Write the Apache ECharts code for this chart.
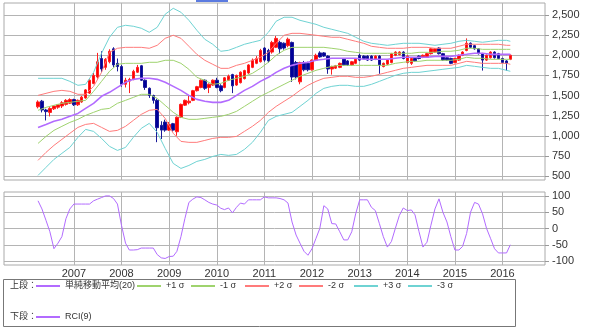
<!DOCTYPE html>
<html><head><meta charset="utf-8">
<script src="https://cdn.jsdelivr.net/npm/echarts@6/dist/echarts.min.js"></script>
<style>html,body{margin:0;padding:0;background:#fff}#c{width:600px;height:332px}</style>
</head><body><div id="c"></div>
<script>
// ---- monthly candles (Apr 2006 - Mar 2016) ----
const months = [
'2006-04','2006-05','2006-06','2006-07','2006-08','2006-09','2006-10','2006-11','2006-12',
'2007-01','2007-02','2007-03','2007-04','2007-05','2007-06','2007-07','2007-08','2007-09','2007-10','2007-11','2007-12',
'2008-01','2008-02','2008-03','2008-04','2008-05','2008-06','2008-07','2008-08','2008-09','2008-10','2008-11','2008-12',
'2009-01','2009-02','2009-03','2009-04','2009-05','2009-06','2009-07','2009-08','2009-09','2009-10','2009-11','2009-12',
'2010-01','2010-02','2010-03','2010-04','2010-05','2010-06','2010-07','2010-08','2010-09','2010-10','2010-11','2010-12',
'2011-01','2011-02','2011-03','2011-04','2011-05','2011-06','2011-07','2011-08','2011-09','2011-10','2011-11','2011-12',
'2012-01','2012-02','2012-03','2012-04','2012-05','2012-06','2012-07','2012-08','2012-09','2012-10','2012-11','2012-12',
'2013-01','2013-02','2013-03','2013-04','2013-05','2013-06','2013-07','2013-08','2013-09','2013-10','2013-11','2013-12',
'2014-01','2014-02','2014-03','2014-04','2014-05','2014-06','2014-07','2014-08','2014-09','2014-10','2014-11','2014-12',
'2015-01','2015-02','2015-03','2015-04','2015-05','2015-06','2015-07','2015-08','2015-09','2015-10','2015-11','2015-12',
'2016-01','2016-02','2016-03'];
const openP = [
1360,1430,1320,1290,1335,1355,1370,1390,1405,
1450,1385,1420,1470,1530,1650,1730,1960,1850,1920,2080,1900,
1860,1640,1680,1700,1790,1870,1690,1590,1500,1440,1130,1170,
1070,1150,1050,1230,1380,1410,1440,1560,1600,1690,1600,1630,
1690,1620,1600,1690,1760,1630,1660,1710,1780,1850,1900,1920,
2090,2060,2040,2100,2160,2150,2120,2160,1910,1670,1910,1900,
1820,1940,2030,2030,1990,1830,1840,1850,1950,1930,1880,1900,
2000,1990,1990,1990,1950,1990,1860,1890,1910,2000,2010,2040,
1910,1900,1960,1990,1975,1975,2020,2040,2090,2020,1970,1960,
1910,1940,2000,2060,2150,2120,2080,2020,1940,1970,2040,2020,
1960,1930,1950];
const closeP = [
1420,1320,1300,1340,1370,1385,1410,1440,1450,
1385,1440,1480,1570,1690,1750,1920,1830,1950,2050,1880,1860,
1640,1690,1700,1800,1850,1690,1600,1500,1440,1100,1070,1070,
1140,1070,1230,1390,1440,1430,1560,1610,1690,1590,1640,1690,
1600,1560,1720,1740,1620,1750,1790,1810,1880,1940,1960,2060,
1940,1930,2160,2210,2080,2090,2200,1730,1730,1910,1820,1820,
1940,2000,1980,1990,1830,1860,1870,1900,1880,1880,1920,1950,
1940,1960,1940,1940,1990,1880,1900,1940,2020,2040,2040,1960,
1990,1960,1930,1960,2000,2020,2080,2080,2020,1940,1940,1900,
1960,2000,2040,2150,2100,2080,2020,1940,2000,2040,1970,1960,
1910,1900,2000];
const lowP = [
1340,1290,1190,1240,1320,1335,1345,1375,1395,
1370,1370,1410,1460,1520,1640,1710,1790,1820,1900,1850,1800,
1610,1600,1530,1690,1780,1680,1570,1470,1400,920,960,1050,
1060,1050,1000,1220,1370,1390,1430,1550,1590,1570,1530,1620,
1590,1540,1590,1680,1530,1620,1650,1700,1770,1840,1890,1910,
1920,1910,2020,2090,2020,2070,2100,1670,1700,1640,1800,1800,
1810,1930,1970,1980,1770,1760,1830,1840,1870,1870,1870,1890,
1930,1950,1930,1930,1940,1770,1850,1880,1900,1990,2000,1950,
1900,1880,1920,1950,1965,1970,2010,2030,2010,1930,1930,1890,
1900,1930,1990,2050,2090,2070,2010,1810,1930,1960,1960,1950,
1900,1810,1940];
const highP = [
1440,1445,1335,1355,1380,1395,1430,1455,1465,
1460,1450,1495,1580,1700,1780,2030,2050,1965,2075,2100,1960,
1880,1720,1720,1820,1880,1880,1700,1600,1510,1460,1180,1200,
1170,1160,1240,1400,1450,1500,1570,1620,1700,1700,1650,1700,
1720,1640,1730,1760,1770,1760,1800,1820,1890,1960,1990,2080,
2100,2080,2180,2240,2180,2160,2220,2170,1930,1920,1930,1920,
1950,2020,2050,2040,2000,1870,1880,1910,1960,1940,1930,1960,
2020,2000,2000,2000,2000,2000,1910,1950,2030,2050,2050,2050,
2000,1970,1970,2000,2010,2030,2090,2090,2100,2030,1980,1970,
1970,2010,2050,2210,2160,2130,2090,2030,2010,2050,2050,2030,
1970,1940,2010];
// ---- RCI(9), monthly ----
const rci9 = [
85,60,25,-10,-62,-45,-25,30,60,
75,75,75,75,75,85,90,95,100,100,92,75,
10,-45,-66,-66,-65,-60,-60,-60,-60,-80,-90,-92,
-86,-85,-70,-25,30,80,90,97,95,88,80,75,
72,62,58,63,48,65,78,75,88,88,88,88,
97,94,94,94,92,88,78,20,-20,-45,-70,-82,
-62,-30,0,70,60,15,14,-10,-35,-35,-10,45,
88,88,88,65,55,15,-25,-57,-40,0,40,63,
55,57,42,-10,-57,-42,10,60,91,50,20,-25,
-66,-66,-55,-15,50,80,75,45,0,-30,-62,-75,
-75,-75,-50];
// ---- Bollinger band lines, read every two months ----
const bandMonths = [
'2006-04','2006-06','2006-08','2006-10','2006-12','2007-02','2007-04','2007-06','2007-08','2007-10',
'2007-12','2008-02','2008-04','2008-06','2008-08','2008-10','2008-12','2009-02','2009-04','2009-06',
'2009-08','2009-10','2009-12','2010-02','2010-04','2010-06','2010-08','2010-10','2010-12','2011-02',
'2011-04','2011-06','2011-08','2011-10','2011-12','2012-02','2012-04','2012-06','2012-08','2012-10',
'2012-12','2013-02','2013-04','2013-06','2013-08','2013-10','2013-12','2014-02','2014-04','2014-06',
'2014-08','2014-10','2014-12','2015-02','2015-04','2015-06','2015-08','2015-10','2015-12','2016-02','2016-03'];
const plus3 = [1714,1714,1714,1714,1676,1627,1639,1788,2025,2224,2348,2373,2361,2336,2286,2348,2510,2584,2535,2435,2311,2199,2137,2050,2062,2099,2137,2162,2186,2286,2423,2473,2473,2435,2410,2385,2348,2323,2298,2273,2224,2174,2149,2137,2124,2137,2149,2149,2149,2137,2124,2137,2149,2174,2186,2174,2162,2174,2186,2186,2174];
const plus2 = [1502,1527,1552,1564,1552,1515,1515,1614,1788,2037,2087,2099,2099,2099,2087,2124,2211,2249,2211,2112,2012,1938,1888,1838,1838,1875,1900,1938,1975,2037,2149,2249,2273,2273,2261,2249,2236,2224,2224,2199,2174,2149,2112,2099,2087,2087,2087,2099,2099,2099,2087,2087,2087,2112,2137,2137,2137,2137,2137,2124,2124];
const plus1 = [1316,1353,1378,1403,1415,1428,1440,1552,1676,1801,1888,1900,1900,1900,1913,1913,1938,1938,1900,1826,1726,1689,1639,1651,1689,1714,1739,1776,1838,1913,2000,2062,2099,2099,2099,2099,2099,2087,2074,2050,2037,2025,2025,2025,2025,2025,2025,2025,2037,2037,2037,2050,2050,2062,2087,2087,2074,2074,2074,2074,2074];
const sma20 = [1104,1141,1179,1204,1241,1278,1340,1403,1490,1540,1602,1664,1701,1714,1714,1701,1664,1614,1564,1502,1452,1428,1415,1415,1440,1502,1564,1614,1676,1726,1788,1838,1875,1900,1913,1938,1950,1963,1963,1963,1963,1950,1950,1950,1950,1963,1975,1975,1975,1975,1987,1987,1987,2000,2012,2025,2025,2012,2012,2012,2012];
const minus1 = [905,992,1067,1117,1166,1204,1253,1291,1328,1340,1403,1440,1477,1515,1515,1465,1378,1291,1229,1204,1204,1216,1229,1241,1266,1303,1365,1428,1490,1540,1589,1639,1689,1739,1776,1813,1838,1863,1875,1875,1875,1875,1875,1875,1875,1900,1913,1925,1925,1938,1938,1938,1938,1950,1975,1963,1963,1950,1950,1950,1950];
const minus2 = [694,793,880,955,1030,1104,1141,1154,1104,1054,1067,1117,1191,1266,1316,1328,1216,1030,930,918,918,942,967,980,980,992,1054,1117,1191,1291,1365,1428,1490,1564,1627,1676,1714,1726,1739,1739,1726,1726,1739,1763,1788,1813,1838,1850,1863,1875,1875,1875,1875,1900,1925,1913,1900,1900,1900,1900,1888];
const minus3 = [507,607,706,781,855,980,1079,1054,967,868,818,855,980,1092,1154,1042,843,656,594,631,681,706,743,768,756,768,830,918,1042,1191,1241,1266,1291,1365,1440,1527,1589,1614,1627,1627,1614,1614,1639,1676,1714,1751,1776,1788,1788,1801,1813,1826,1838,1850,1875,1863,1850,1838,1838,1813,1801];
// ---- ticks ----
const yearLabels = ['2007','2008','2009','2010','2011','2012','2013','2014','2015','2016'];
const priceTicks = [500,750,1000,1250,1500,1750,2000,2250,2500];
const rciTicks = [-100,-50,0,50,100];

const FONT = '"Liberation Sans", "Noto Sans CJK JP", sans-serif';
const GRIDC = '#b4b4b4';
const ts = s => { const p = s.split('-').map(Number); return Date.UTC(p[0], (p[1] || 1) - 1, p[2] || 1); };
const X_MIN = ts('2005-07-14'), X_MAX = ts('2016-11-22');
const yearTs = yearLabels.map(y => ts(y + '-01-01'));

const candleData = months.map((m, i) => [ts(m), openP[i], closeP[i], lowP[i], highP[i]]);
const band = arr => bandMonths.map((m, i) => [ts(m), arr[i]]);
const rciData = months.map((m, i) => [ts(m), rci9[i]]);

const bandDefs = [
  {name: '単純移動平均(20)', data: sma20, color: '#b26bff', w: 1.6},
  {name: '+1 σ', data: plus1, color: '#9fd36e', w: 1},
  {name: '-1 σ', data: minus1, color: '#9fd36e', w: 1},
  {name: '+2 σ', data: plus2, color: '#ff7b7b', w: 1},
  {name: '-2 σ', data: minus2, color: '#ff7b7b', w: 1},
  {name: '+3 σ', data: plus3, color: '#6fd3d3', w: 1},
  {name: '-3 σ', data: minus3, color: '#6fd3d3', w: 1}
];
const legendPos = [[36,280],[137,280],[191,280],[245,280],[299,280],[354,280],[408,280]];
const LEG_TEXT = {fontSize: 9, color: '#333', fontFamily: FONT, lineHeight: 12};

const xAxisBase = (grid, showLabel) => ({
  type: 'value', gridIndex: grid, min: X_MIN, max: X_MAX,
  axisLine: {show: false},
  axisTick: {show: false, customValues: yearTs},
  splitLine: {show: true, lineStyle: {color: GRIDC, width: 1}},
  axisLabel: showLabel ? {
    show: true, customValues: yearTs, margin: 3, color: '#333', fontSize: 11, fontFamily: FONT,
    formatter: v => String(new Date(v).getUTCFullYear())
  } : {show: false}
});

const option = {
  animation: false,
  backgroundColor: '#fff',
  grid: [
    {left: 4, right: 55, top: 3, height: 177, show: true, borderColor: '#aaa', borderWidth: 1},
    {left: 4, right: 55, top: 192, height: 73, show: true, borderColor: '#aaa', borderWidth: 1}
  ],
  xAxis: [xAxisBase(0, false), xAxisBase(1, true)],
  yAxis: [
    {type: 'value', gridIndex: 0, position: 'right', min: 450, max: 2650,
     axisLine: {show: false},
     axisTick: {show: true, length: 4, customValues: priceTicks, lineStyle: {color: '#999'}},
     splitLine: {show: true, lineStyle: {color: GRIDC, width: 1}},
     axisLabel: {customValues: priceTicks, margin: 7, color: '#333', fontSize: 11, fontFamily: FONT,
       formatter: v => Number(v).toLocaleString('en-US')}},
    {type: 'value', gridIndex: 1, position: 'right', min: -112, max: 112,
     axisLine: {show: false},
     axisTick: {show: true, length: 4, customValues: rciTicks, lineStyle: {color: '#999'}},
     splitLine: {show: true, lineStyle: {color: GRIDC, width: 1}},
     axisLabel: {customValues: rciTicks, margin: 7, color: '#333', fontSize: 11, fontFamily: FONT}}
  ],
  legend: bandDefs.map((b, i) => ({
    data: [b.name], left: legendPos[i][0], top: legendPos[i][1], padding: 0,
    itemWidth: 24, itemHeight: 2, icon: 'rect', selectedMode: false, textStyle: LEG_TEXT
  })).concat([{
    data: ['RCI(9)'], left: 36, top: 311, padding: 0,
    itemWidth: 24, itemHeight: 2, icon: 'rect', selectedMode: false, textStyle: LEG_TEXT
  }]),
  graphic: [
    {type: 'rect', shape: {x: 196, y: 0, width: 32, height: 2}, style: {fill: '#5b7be0'}, silent: true},
    {type: 'rect', shape: {x: 3.5, y: 279.5, width: 512, height: 47}, style: {fill: 'none', stroke: '#777', lineWidth: 1}, silent: true},
    {type: 'text', x: 10, y: 286, style: {text: '上段：', fill: '#333', font: '9px ' + FONT, textVerticalAlign: 'middle'}},
    {type: 'text', x: 10, y: 317, style: {text: '下段：', fill: '#333', font: '9px ' + FONT, textVerticalAlign: 'middle'}}
  ],
  series: [
    {type: 'candlestick', name: '株価', xAxisIndex: 0, yAxisIndex: 0,
     dimensions: ['date', 'open', 'close', 'lowest', 'highest'],
     encode: {x: 'date', y: ['open', 'close', 'lowest', 'highest']},
     data: candleData, barWidth: 3,
     itemStyle: {color: '#ff0000', color0: '#000099', borderColor: '#ff2020', borderColor0: '#1a1a99', borderWidth: 1}}
  ].concat(bandDefs.map(b => ({
    type: 'line', name: b.name, xAxisIndex: 0, yAxisIndex: 0, data: band(b.data),
    symbol: 'none', showSymbol: false, color: b.color, lineStyle: {color: b.color, width: b.w}
  }))).concat([
    {type: 'line', name: 'RCI(9)', xAxisIndex: 1, yAxisIndex: 1, data: rciData,
     symbol: 'none', showSymbol: false, color: '#b26bff', lineStyle: {color: '#b26bff', width: 1}}
  ])
};
const chart = echarts.init(document.getElementById('c'));
chart.setOption(option);
</script>
</body></html>
